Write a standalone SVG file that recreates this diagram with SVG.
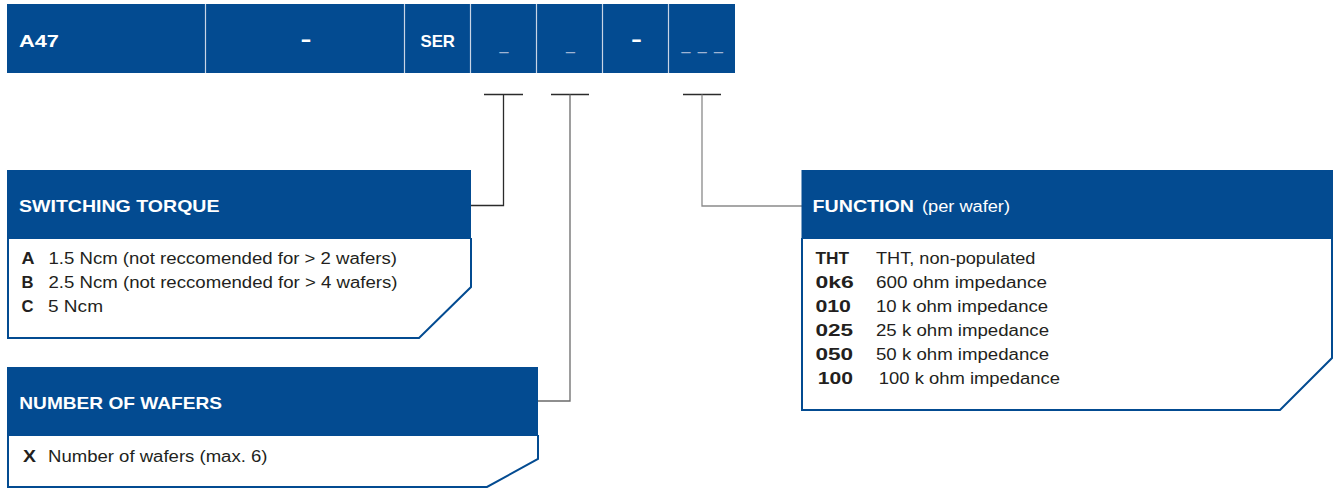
<svg xmlns="http://www.w3.org/2000/svg" width="1333" height="488" viewBox="0 0 1333 488">
<style>
.blue{fill:#034b91}
.body{fill:#fff;stroke:#034b91;stroke-width:2}
.div{stroke:#c9d5e6;stroke-width:1.2}
.hd{font-family:"Liberation Sans",Arial,sans-serif;font-weight:bold;font-size:17px;fill:#fff}
.dash{font-family:"Liberation Sans",Arial,sans-serif;font-weight:bold;font-size:20px;fill:#fff}
.hdr{font-family:"Liberation Sans",Arial,sans-serif;font-size:16px;fill:#fff}
.tx{font-family:"Liberation Sans",Arial,sans-serif;font-size:16px;fill:#231f20}
.b{font-weight:bold;font-size:16.5px}
.us{font-family:"Liberation Sans",Arial,sans-serif;font-size:16px;fill:#9fb4d4}
.con{fill:none;stroke-width:1.3}
</style>
<rect width="1333" height="488" fill="#fff"/>
<g id="code-bar">
<rect class="blue" x="7" y="4" width="728" height="69"/>
<line class="div" x1="205.5" y1="4" x2="205.5" y2="73"/>
<line class="div" x1="404.5" y1="4" x2="404.5" y2="73"/>
<line class="div" x1="470.5" y1="4" x2="470.5" y2="73"/>
<line class="div" x1="536.5" y1="4" x2="536.5" y2="73"/>
<line class="div" x1="602.5" y1="4" x2="602.5" y2="73"/>
<line class="div" x1="668.5" y1="4" x2="668.5" y2="73"/>
<text class="hd" x="19" y="47" textLength="40" lengthAdjust="spacingAndGlyphs">A47</text>
<text class="dash" x="300.5" y="46" textLength="11" lengthAdjust="spacingAndGlyphs">-</text>
<text class="hd" x="420.5" y="47" textLength="34.5" lengthAdjust="spacingAndGlyphs">SER</text>
<text class="us" x="504" y="50" text-anchor="middle">_</text>
<text class="us" x="570.5" y="50" text-anchor="middle">_</text>
<text class="dash" x="631" y="46" textLength="11" lengthAdjust="spacingAndGlyphs">-</text>
<text class="us" x="681.5" y="50" textLength="41.5" lengthAdjust="spacing">_ _ _</text>
</g>
<g id="connectors">
<path class="con" stroke="#2b2b2b" d="M484,94.5 H523 M503.5,94.5 V205.5 H470"/>
<path class="con" stroke="#2b2b2b" d="M551,94.5 H589"/>
<path class="con" stroke="#6a6a6a" d="M570,94.5 V401 H538"/>
<path class="con" stroke="#2b2b2b" d="M683,94.5 H721"/>
<path class="con" stroke="#8a8a8a" d="M702,94.5 V206 H802"/>
</g>
<g id="switching-torque">
<path class="body" d="M8,238 V338 H419 L471,287 V238"/>
<rect class="blue" x="7" y="170" width="464" height="69"/>
<text class="hd" x="19" y="212" textLength="200.5" lengthAdjust="spacingAndGlyphs">SWITCHING TORQUE</text>
<text class="tx b" x="21.5" y="264" textLength="13" lengthAdjust="spacingAndGlyphs">A</text>
<text class="tx" x="48.5" y="264" textLength="348.5" lengthAdjust="spacingAndGlyphs">1.5 Ncm (not reccomended for &gt; 2 wafers)</text>
<text class="tx b" x="21.5" y="288" textLength="12" lengthAdjust="spacingAndGlyphs">B</text>
<text class="tx" x="48.5" y="288" textLength="349" lengthAdjust="spacingAndGlyphs">2.5 Ncm (not reccomended for &gt; 4 wafers)</text>
<text class="tx b" x="21.5" y="312" textLength="12" lengthAdjust="spacingAndGlyphs">C</text>
<text class="tx" x="48" y="312" textLength="55" lengthAdjust="spacingAndGlyphs">5 Ncm</text>
</g>
<g id="number-of-wafers">
<path class="body" d="M8,435 V487 H487 L538,459 V435"/>
<rect class="blue" x="7" y="367" width="531" height="69"/>
<text class="hd" x="19.3" y="408.5" textLength="202.7" lengthAdjust="spacingAndGlyphs">NUMBER OF WAFERS</text>
<text class="tx b" x="23" y="461.5" textLength="13" lengthAdjust="spacingAndGlyphs">X</text>
<text class="tx" x="48" y="461.5" textLength="219.5" lengthAdjust="spacingAndGlyphs">Number of wafers (max. 6)</text>
</g>
<g id="function">
<path class="body" d="M802,238 V410 H1280 L1332,358 V238"/>
<rect class="blue" x="801.5" y="170" width="531.5" height="69"/>
<text class="hd" x="812.6" y="212" textLength="101.4" lengthAdjust="spacingAndGlyphs">FUNCTION</text>
<text class="hdr" x="922" y="212" textLength="88" lengthAdjust="spacingAndGlyphs">(per wafer)</text>
<text class="tx b" x="815.4" y="263.5" textLength="33.6" lengthAdjust="spacingAndGlyphs">THT</text>
<text class="tx" x="876" y="263.5" textLength="159.4" lengthAdjust="spacingAndGlyphs">THT, non-populated</text>
<text class="tx b" x="815.4" y="287.7" textLength="38.3" lengthAdjust="spacingAndGlyphs">0k6</text>
<text class="tx" x="876" y="287.7" textLength="171" lengthAdjust="spacingAndGlyphs">600 ohm impedance</text>
<text class="tx b" x="815.4" y="311.7" textLength="35.6" lengthAdjust="spacingAndGlyphs">010</text>
<text class="tx" x="876" y="311.7" textLength="172" lengthAdjust="spacingAndGlyphs">10 k ohm impedance</text>
<text class="tx b" x="815.4" y="335.7" textLength="37.6" lengthAdjust="spacingAndGlyphs">025</text>
<text class="tx" x="876" y="335.7" textLength="173" lengthAdjust="spacingAndGlyphs">25 k ohm impedance</text>
<text class="tx b" x="815.4" y="359.5" textLength="37.6" lengthAdjust="spacingAndGlyphs">050</text>
<text class="tx" x="876" y="359.5" textLength="173" lengthAdjust="spacingAndGlyphs">50 k ohm impedance</text>
<text class="tx b" x="817.8" y="383.5" textLength="35.2" lengthAdjust="spacingAndGlyphs">100</text>
<text class="tx" x="878.8" y="383.5" textLength="181.2" lengthAdjust="spacingAndGlyphs">100 k ohm impedance</text>
</g>
</svg>
